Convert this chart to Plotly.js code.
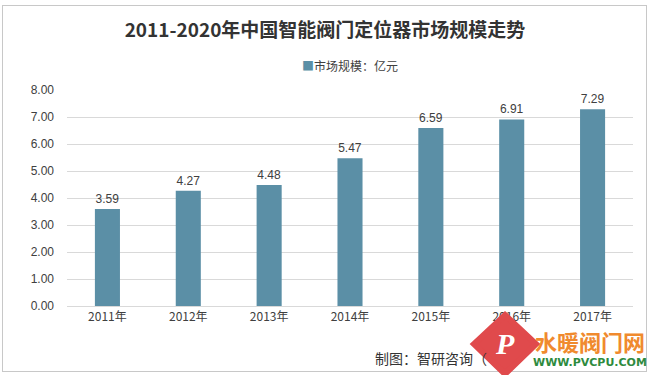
<!DOCTYPE html>
<html>
<head>
<meta charset="utf-8">
<script src="https://cdn.plot.ly/plotly-3.0.1.min.js"></script>
<style>
html,body{margin:0;padding:0;background:#fff;}
#frame{position:absolute;left:2px;top:5px;width:643px;height:365px;border:1px solid #c8c8c8;}
#chart{position:absolute;left:0;top:0;width:650px;height:375px;}
</style>
</head>
<body>
<div id="frame"></div>
<div id="chart"></div>
<script>
const years = ["2011年","2012年","2013年","2014年","2015年","2016年","2017年"];
const marketSize = [3.59, 4.27, 4.48, 5.47, 6.59, 6.91, 7.29];
const yTicks = [0,1,2,3,4,5,6,7,8];
const yTickLabels = ["0.00","1.00","2.00","3.00","4.00","5.00","6.00","7.00","8.00"];
const seriesName = "市场规模：亿元";
const titleText = "2011-2020年中国智能阀门定位器市场规模走势";
const sourceText = "制图：智研咨询（";

const font = "Microsoft YaHei, 'Noto Sans CJK SC', sans-serif";
const numFont = "'Liberation Sans', Arial, sans-serif";
const barColor = "#5b8fa6";

const L = 67, T = 90, W = 566, H = 216;
const px = x => (x - L) / W;
const py = y => (T + H - y) / H;

const trace = {
  type: "bar",
  x: years,
  y: marketSize,
  name: seriesName,
  showlegend: false,
  marker: {color: barColor, line: {width: 0}},
  text: marketSize.map(v => v.toFixed(2)),
  textposition: "outside",
  cliponaxis: false,
  textfont: {size: 12, color: "#404040", family: numFont},
  hoverinfo: "none"
};

const layout = {
  width: 650, height: 375,
  paper_bgcolor: "rgba(0,0,0,0)",
  plot_bgcolor: "rgba(0,0,0,0)",
  margin: {l: L, r: 650 - L - W, t: T, b: 375 - T - H},
  title: {text: "<b>" + titleText + "</b>", font: {size: 19, color: "#333333", family: font}, x: 0.5, xanchor: "center", y: 0.92, yanchor: "middle"},
  showlegend: false,
  bargap: 0.69,
  xaxis: {
    type: "category",
    showgrid: false,
    showline: true, linecolor: "#d9d9d9", linewidth: 1,
    ticks: "", tickfont: {size: 12, color: "#404040", family: font},
    fixedrange: true
  },
  yaxis: {
    range: [0, 8],
    tickvals: yTicks, ticktext: yTickLabels,
    showgrid: true, gridcolor: "#d9d9d9", gridwidth: 1,
    zeroline: false, showline: false, ticks: "",
    ticklabelstandoff: 12,
    tickfont: {size: 12, color: "#404040", family: numFont},
    fixedrange: true
  },
  shapes: [
    {type: "path", xref: "paper", yref: "paper",
     path: "M " + px(505) + " " + py(315) + " L " + px(536) + " " + py(344) + " L " + px(505) + " " + py(374) + " L " + px(474) + " " + py(344) + " Z",
     fillcolor: "#e04a4c", line: {color: "#e04a4c", width: 6}}
  ],
  annotations: [
    {xref: "paper", yref: "paper", x: 0.5, y: py(65), xanchor: "center", yanchor: "middle", showarrow: false,
     text: "<span style='color:" + barColor + "'>■</span>" + seriesName, font: {size: 12, color: "#404040", family: font}},
    {xref: "paper", yref: "paper", x: px(373), y: py(358), xanchor: "left", yanchor: "middle", showarrow: false,
     text: sourceText, font: {size: 14, color: "#333333", family: font}},
    {xref: "paper", yref: "paper", x: px(505), y: py(343), xanchor: "center", yanchor: "middle", showarrow: false,
     text: "<i><b>P</b></i>", font: {size: 30, color: "#ffffff", family: "'Liberation Serif', serif"}},
    {xref: "paper", yref: "paper", x: px(590), y: py(341), xanchor: "center", yanchor: "middle", showarrow: false,
     text: "<b>水暖阀门网</b>", font: {size: 22, color: "#f08a2e", family: font}},
    {xref: "paper", yref: "paper", x: px(590), y: py(362), xanchor: "center", yanchor: "middle", showarrow: false,
     text: "<b>WWW.PVCPU.COM</b>", font: {size: 11, color: "#2e8b3e", family: "'DejaVu Sans', sans-serif"}}
  ]
};

Plotly.newPlot("chart", [trace], layout, {displayModeBar: false, staticPlot: true});
</script>
</body>
</html>
